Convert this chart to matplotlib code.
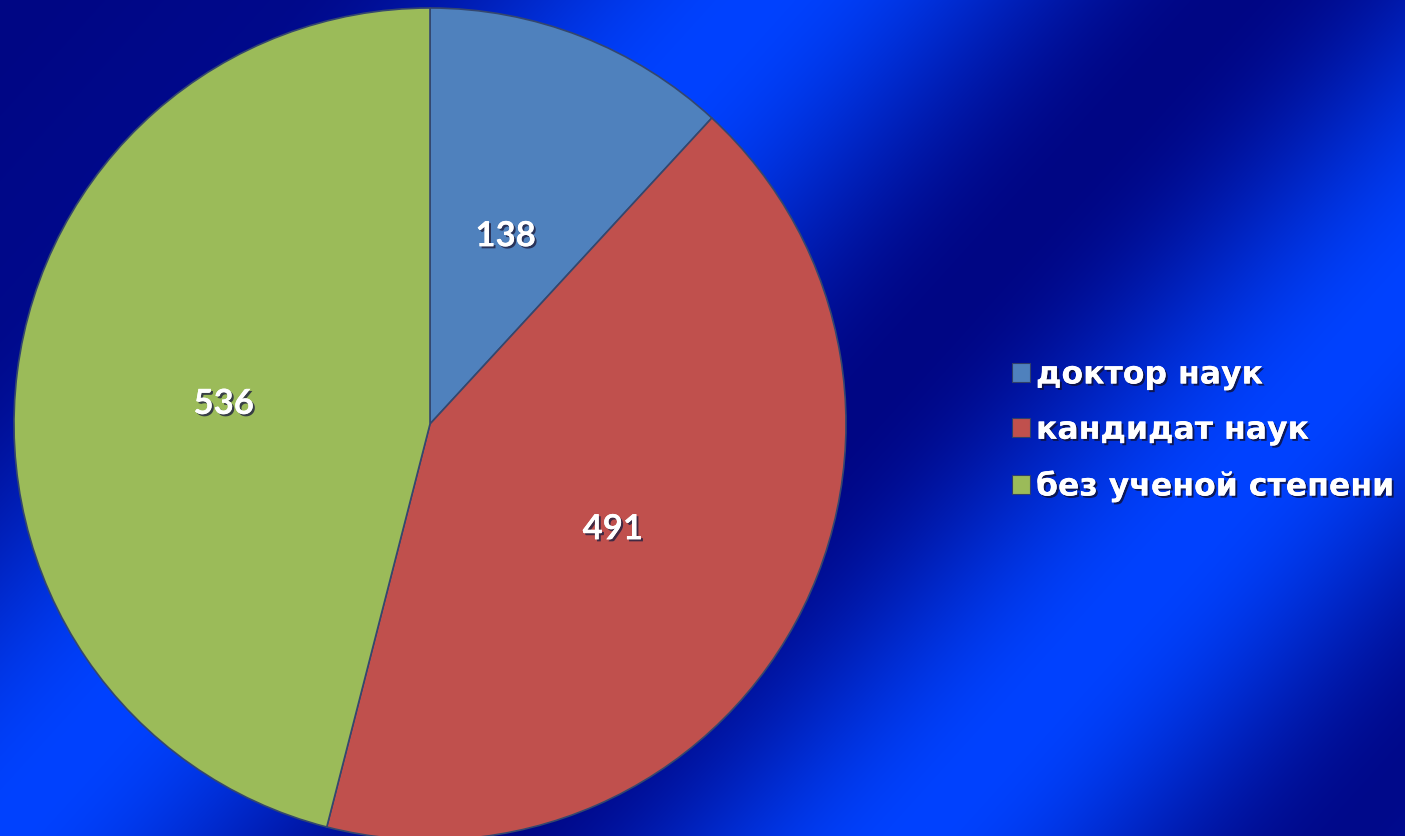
import numpy as np
import matplotlib
matplotlib.use("Agg")
import matplotlib.pyplot as plt
import matplotlib.patheffects as pe
import matplotlib.transforms as mtransforms
from matplotlib.patches import Rectangle

# ---- data ----
categories = ["доктор наук", "кандидат наук", "без ученой степени"]
values = [138, 491, 536]
colors = ["#4F81BD", "#C0504D", "#9BBB59"]

W, H, DPI = 1405, 837, 100
fig = plt.figure(figsize=(W / DPI, H / DPI), dpi=DPI)

# ---- background: blue diagonal streaks ----
bg = fig.add_axes([0, 0, 1, 1], zorder=0)
yy, xx = np.mgrid[0:H, 0:W]
u = 0.74 * xx + 0.67 * yy
knots_u = np.array([0, 200, 560, 910, 1240, 1560, 1700])
knots_v = np.array([0.0, 0.05, 1.0, 0.0, 1.0, 0.05, 0.3])
idx = np.clip(np.searchsorted(knots_u, u) - 1, 0, len(knots_u) - 2)
s = np.clip((u - knots_u[idx]) / (knots_u[idx + 1] - knots_u[idx]), 0, 1)
s = (1 - np.cos(np.pi * s)) / 2
t = knots_v[idx] * (1 - s) + knots_v[idx + 1] * s
dark = np.array([0, 6, 132]) / 255.0
bright = np.array([0, 66, 255]) / 255.0
img = dark[None, None, :] * (1 - t[..., None]) + bright[None, None, :] * t[..., None]
bg.imshow(img, extent=[0, W, H, 0], aspect="auto", interpolation="bilinear")
bg.set_xlim(0, W)
bg.set_ylim(H, 0)
bg.axis("off")

# ---- pie ----
cx, cy, R = 430, 425, 416
ax = fig.add_axes([(cx - R) / W, (H - cy - R) / H, 2 * R / W, 2 * R / H], zorder=1)
ax.patch.set_alpha(0)
wedges, texts = ax.pie(
    values,
    colors=colors,
    startangle=90,
    counterclock=False,
    labels=[str(v) for v in values],
    labeldistance=0.5,
    wedgeprops=dict(edgecolor="#34476e", linewidth=1.2),
    textprops=dict(color="white", fontsize=25, fontweight="bold", family=["Lato", "DejaVu Sans"],
                   ha="center", va="center"),
)
ax.set_xlim(-1, 1)
ax.set_ylim(-1, 1)
ax.set_aspect("equal")
ax.axis("off")
for w in wedges:
    w.set_clip_on(False)
shift = mtransforms.offset_copy(ax.transData, fig=fig, x=0, y=-6, units="dots")
for tx in texts:
    tx.set_transform(shift)
    tx.set_path_effects([pe.withSimplePatchShadow(offset=(1.5, -1.5), shadow_rgbFace="#202040", alpha=0.8),
                         pe.Normal()])

# ---- legend ----
handles = [Rectangle((0, 0), 1, 1, facecolor=c, edgecolor="#30406a", linewidth=0.8) for c in colors]
leg = fig.legend(
    handles, categories,
    loc="center left",
    bbox_to_anchor=(984 / W, 1 - 432 / H),
    frameon=False,
    handlelength=0.55, handleheight=0.55, handletextpad=0.2,
    labelspacing=0.77,
    prop=dict(family="DejaVu Sans", weight="bold", size=22.7),
)
for tx in leg.get_texts():
    tx.set_color("white")
    tx.set_path_effects([pe.withSimplePatchShadow(offset=(1.5, -1.5), shadow_rgbFace="#101030", alpha=0.8),
                         pe.Normal()])

fig.savefig("out.png", dpi=DPI)
